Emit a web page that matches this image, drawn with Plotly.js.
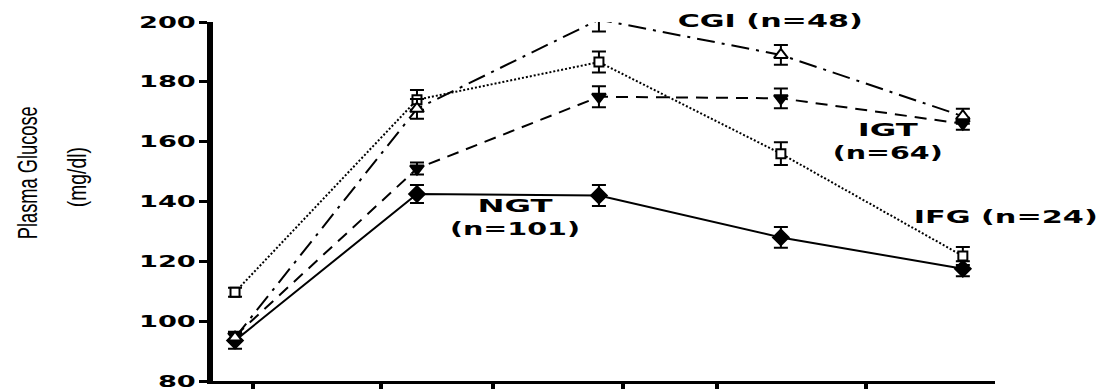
<!DOCTYPE html>
<html>
<head>
<meta charset="utf-8">
<script src="https://cdn.plot.ly/plotly-3.0.1.min.js"></script>
<style>html,body{margin:0;padding:0;background:#fff;}#chart{width:1105px;height:392px;}</style>
</head>
<body>
<div id="chart"></div>
<script>
// time after glucose load (min)
const times = [0, 30, 60, 90, 120];

const ngtValues = [93.5, 142.5, 142, 128, 117.5];
const ngtErr    = [2.7, 3, 3.5, 3.5, 2.5];

const igtValues = [95, 151, 175, 174.5, 166];
const igtErr    = [1.5, 2, 3.5, 3.3, 2];

const ifgValues = [109.7, 174, 186.6, 156, 121.8];
const ifgErr    = [1.5, 3.3, 3.5, 3.8, 3];

const cgiValues = [94.5, 171, 200.8, 189, 168.5];
const cgiErr    = [1.5, 3.3, 4, 3.3, 2.5];

const yTickVals = [80, 100, 120, 140, 160, 180, 200];
const xTickVals = [3, 24, 42.5, 64, 79.5, 104];

function series(y, err, dash, symbol, size, fill) {
  return {
    x: times, y: y, type: 'scatter', mode: 'lines+markers', cliponaxis: false,
    line: {color: '#000', width: 2, dash: dash},
    marker: {symbol: symbol, size: size, color: fill, line: {color: '#000', width: 2}},
    error_y: {type: 'data', array: err, visible: true, color: '#000', thickness: 2, width: 7},
    showlegend: false, hoverinfo: 'skip'
  };
}

const data = [
  series(ngtValues, ngtErr, 'solid', 'diamond', 12, '#000'),
  series(igtValues, igtErr, '12px,8px', 'triangle-down', 12, '#000'),
  series(ifgValues, ifgErr, '2px,2px', 'square', 9, '#fff'),
  series(cgiValues, cgiErr, '18px,7px,3px,7px', 'triangle-up', 12, '#fff')
];

const tickFont = {family: 'DejaVu Sans', size: 16, color: '#000', weight: 'bold'};
const labelFont = {family: 'DejaVu Sans', size: 18, color: '#000', weight: 'bold'};
const titleFont = {family: 'Liberation Sans, Arial, sans-serif', size: 27, color: '#000'};
const unitFont = {family: 'Liberation Sans, Arial, sans-serif', size: 25, color: '#000'};

const layout = {
  width: 1105, height: 392,
  margin: {l: 213, r: 110, t: 22, b: 11, pad: 0},
  paper_bgcolor: '#fff', plot_bgcolor: '#fff',
  xaxis: {
    range: [-3.63, 125.3], showgrid: false, zeroline: false,
    showline: true, linecolor: '#000', linewidth: 3,
    tickmode: 'array', tickvals: xTickVals, showticklabels: false,
    ticks: 'outside', ticklen: 5, tickwidth: 4, tickcolor: '#000'
  },
  yaxis: {
    range: [80, 200], showgrid: false, zeroline: false,
    showline: true, linecolor: '#000', linewidth: 6,
    tickmode: 'array', tickvals: yTickVals, ticktext: yTickVals.map(String),
    ticks: 'outside', ticklen: 8, tickwidth: 3, tickcolor: '#000',
    tickfont: tickFont, ticklabeloverflow: 'allow'
  },
  annotations: [
    {text: 'CGI (n=48)', x: 88.2, y: 1.0028, xref: 'x', yref: 'paper', xanchor: 'center', yanchor: 'middle', showarrow: false, font: labelFont},
    {text: 'IGT<br>(n=64)', x: 107.6, y: 160.2, xref: 'x', yref: 'y', xanchor: 'center', yanchor: 'middle', showarrow: false, font: labelFont},
    {text: 'IFG (n=24)', x: 1.0128, y: 135.1, xref: 'paper', yref: 'y', xanchor: 'center', yanchor: 'middle', showarrow: false, font: labelFont},
    {text: 'NGT<br>(n=101)', x: 46.2, y: 134.8, xref: 'x', yref: 'y', xanchor: 'center', yanchor: 'middle', showarrow: false, font: labelFont},
    {text: 'Plasma Glucose', x: -0.2366, y: 0.582, xref: 'paper', yref: 'paper', xanchor: 'center', yanchor: 'middle', textangle: -90, showarrow: false, font: titleFont},
    {text: '(mg/dl)', x: -0.174, y: 0.568, xref: 'paper', yref: 'paper', xanchor: 'center', yanchor: 'middle', textangle: -90, showarrow: false, font: unitFont}
  ]
};

// widths (px) of each text line in the original, wide-set typography
const annotationLineWidths = [[185], [60, 110], [184], [75, 130], [133], [60]];
const tickStretch = 1.7;

function stretchText(el, w) {
  el.setAttribute('textLength', w);
  el.setAttribute('lengthAdjust', 'spacingAndGlyphs');
}

Plotly.newPlot('chart', data, layout, {staticPlot: true, displayModeBar: false}).then(function (gd) {
  gd.querySelectorAll('.ytick text').forEach(function (t) {
    stretchText(t, t.getComputedTextLength() * tickStretch);
  });
  gd.querySelectorAll('.annotation').forEach(function (a, i) {
    const widths = annotationLineWidths[i];
    if (!widths) return;
    const txt = a.querySelector('.annotation-text');
    if (!txt) return;
    const lines = txt.querySelectorAll('tspan.line');
    if (lines.length) {
      lines.forEach(function (ln, j) { if (widths[j]) stretchText(ln, widths[j]); });
    } else {
      stretchText(txt, widths[0]);
    }
  });
});
</script>
</body>
</html>
